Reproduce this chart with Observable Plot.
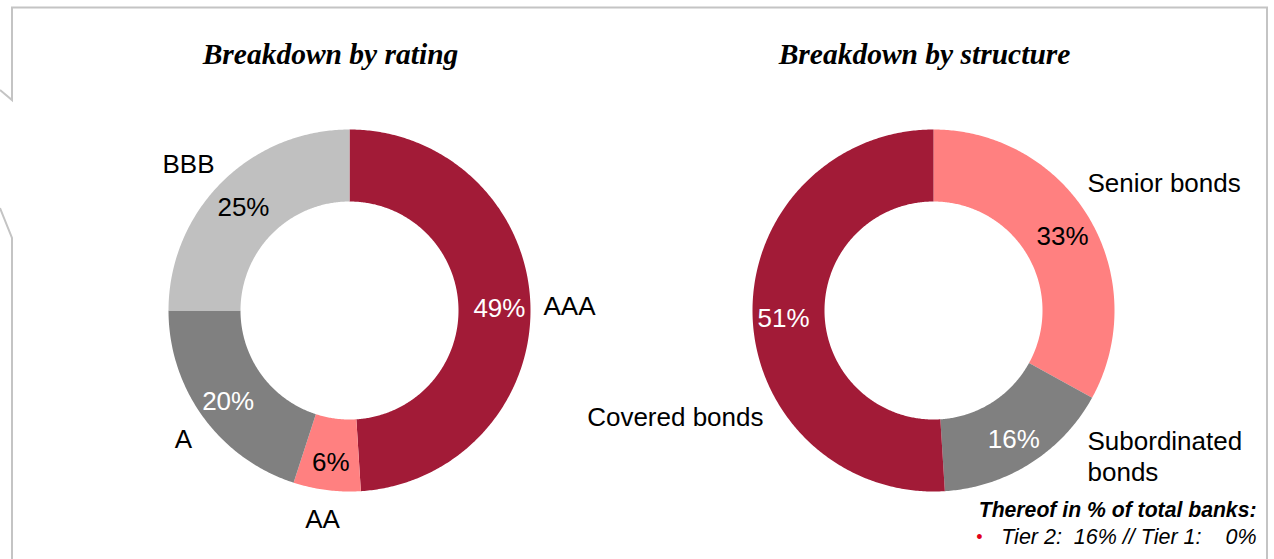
<!DOCTYPE html>
<html><head><meta charset="utf-8">
<script src="https://cdn.jsdelivr.net/npm/d3@7"></script>
<script src="https://cdn.jsdelivr.net/npm/@observablehq/plot@0.6"></script>
<style>
body{margin:0;background:#fff}
#wrap{position:relative;width:1274px;height:559px;overflow:hidden}
#frame{position:absolute;left:0;top:0;pointer-events:none}
</style>
</head><body><div id="wrap"></div>
<script>
// ---- data ----
const ratingCategories = ["AAA", "AA", "A", "BBB"];
const ratingValues = [49, 6, 20, 25];
const structureCategories = ["Senior bonds", "Subordinated bonds", "Covered bonds"];
const structureValues = [33, 16, 51];
const chartTitles = ["Breakdown by rating", "Breakdown by structure"];
const noteTitle = "Thereof in % of total banks:";
const noteLine = "Tier 2:\u00a0\u00a016% // Tier 1:\u00a0\u00a0\u00a0\u00a00%";

// ---- styles ----
const palette = {
  "AAA": "#a21b37", "AA": "#ff8080", "A": "#808080", "BBB": "#c0c0c0",
  "Senior bonds": "#ff8080", "Subordinated bonds": "#808080", "Covered bonds": "#a21b37"
};
const darkSlices = new Set(["AAA", "A", "Subordinated bonds", "Covered bonds"]);
const labelText = {"Subordinated bonds": "Subordinated\nbonds"};

// ---- layout ----
const W = 1274, H = 559;
const R = 181, r0 = 109, rLabel = 150;
const charts = [
  {id: "rating", cats: ratingCategories, vals: ratingValues, cx: 349, cy: 310, title: chartTitles[0], tx: 330},
  {id: "structure", cats: structureCategories, vals: structureValues, cx: 933, cy: 310, title: chartTitles[1], tx: 924}
];
const outerLabelPos = {
  "AAA": [543, 305, "start"], "AA": [322, 518, "middle"], "A": [183, 438, "middle"], "BBB": [188, 163, "middle"],
  "Senior bonds": [1087, 182, "start"], "Subordinated bonds": [1087, 455, "start"], "Covered bonds": [763, 416, "end"]
};

const polys = [], pct = [];
for (const c of charts) {
  const arcs = d3.pie().sort(null).value(d => d)(c.vals);
  arcs.forEach((a, i) => {
    const key = c.id + i, cat = c.cats[i];
    const n = Math.max(4, Math.ceil((a.endAngle - a.startAngle) / 0.01));
    for (let k = 0; k <= n; k++) {
      const t = a.startAngle + (a.endAngle - a.startAngle) * k / n;
      polys.push({key, cat, x: c.cx + R * Math.sin(t), y: c.cy - R * Math.cos(t)});
    }
    for (let k = n; k >= 0; k--) {
      const t = a.startAngle + (a.endAngle - a.startAngle) * k / n;
      polys.push({key, cat, x: c.cx + r0 * Math.sin(t), y: c.cy - r0 * Math.cos(t)});
    }
    const m = (a.startAngle + a.endAngle) / 2;
    pct.push({cat, text: c.vals[i] + "%", x: c.cx + rLabel * Math.sin(m), y: c.cy - rLabel * Math.cos(m) + 3});
  });
}
const outer = charts.flatMap(c => c.cats.map(cat => ({
  cat, text: labelText[cat] || cat, x: outerLabelPos[cat][0], y: outerLabelPos[cat][1], anchor: outerLabelPos[cat][2]
})));

const sans = "Arial, 'Liberation Sans', sans-serif";
const serif = "'Times New Roman', 'Liberation Serif', serif";
const fs = 26;

const plot = Plot.plot({
  width: W, height: H, margin: 0,
  style: {background: "white", overflow: "visible"},
  x: {domain: [0, W], range: [0, W], axis: null},
  y: {domain: [0, H], range: [0, H], axis: null},
  color: {domain: Object.keys(palette), range: Object.values(palette)},
  marks: [
    Plot.line(polys, {x: "x", y: "y", z: "key", fill: "cat", stroke: "none", curve: "linear-closed"}),
    Plot.text(pct.filter(d => darkSlices.has(d.cat)), {x: "x", y: "y", text: "text", fill: "white", fontSize: fs, fontFamily: sans}),
    Plot.text(pct.filter(d => !darkSlices.has(d.cat)), {x: "x", y: "y", text: "text", fill: "black", fontSize: fs, fontFamily: sans}),
    ...["start", "middle", "end"].map(an => Plot.text(outer.filter(d => d.anchor === an), {x: "x", y: "y", text: "text", textAnchor: an, fill: "black", fontSize: fs, fontFamily: sans, lineHeight: 1.2})),
    Plot.text(charts, {x: "tx", y: () => 54, text: "title", fontSize: 29.5, fontFamily: serif, fontStyle: "italic", fontWeight: "bold", fill: "black"}),
    Plot.text([noteTitle], {x: () => 1256, y: () => 510, text: d => d, textAnchor: "end", fontSize: 21.2, fontFamily: sans, fontStyle: "italic", fontWeight: "bold", fill: "black"}),
    Plot.text([noteLine], {x: () => 1256, y: () => 537, text: d => d, textAnchor: "end", fontSize: 21.5, fontFamily: sans, fontStyle: "italic", fill: "black"}),
    Plot.text(["\u2022"], {x: () => 979, y: () => 537, text: d => d, fontSize: 18, fontFamily: sans, fill: "#e2001a"})
  ]
});
const wrap = document.getElementById("wrap");
wrap.appendChild(plot);

// decorative frame
const ns = "http://www.w3.org/2000/svg";
const fr = document.createElementNS(ns, "svg");
fr.setAttribute("id", "frame"); fr.setAttribute("width", W); fr.setAttribute("height", H);
const pl = document.createElementNS(ns, "polyline");
pl.setAttribute("points", "0,90 12,100 12,7.5 1267,7.5 1267,559");
const pl2 = document.createElementNS(ns, "polyline");
pl2.setAttribute("points", "0,208 12,238 12,559");
for (const p of [pl, pl2]) { p.setAttribute("fill", "none"); p.setAttribute("stroke", "#c4c4c4"); p.setAttribute("stroke-width", "2"); fr.appendChild(p); }
wrap.appendChild(fr);
</script>
</body></html>
